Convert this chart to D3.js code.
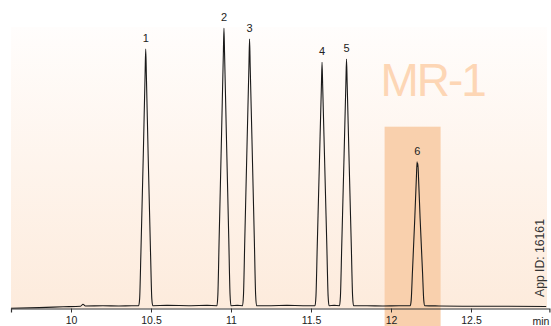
<!DOCTYPE html>
<html>
<head>
<meta charset="utf-8">
<script src="https://cdn.jsdelivr.net/npm/d3@7"></script>
<style>
  html, body { margin: 0; padding: 0; background: #ffffff; }
  svg { display: block; }
</style>
</head>
<body>
<svg id="chart" width="551" height="326"></svg>
<script>
// ---- data ----
const traceTime = [
  9.625, 9.8, 9.95, 10.06, 10.075, 10.09, 10.2, 10.3, 10.38,
  10.423, 10.429, 10.437, 10.452, 10.463, 10.467, 10.471, 10.482, 10.497, 10.505, 10.511,
  10.6, 10.75, 10.85,
  10.912, 10.918, 10.926, 10.941, 10.952, 10.956, 10.960, 10.971, 10.986, 10.994, 11.000,
  11.04,
  11.072, 11.078, 11.086, 11.101, 11.112, 11.116, 11.120, 11.131, 11.146, 11.154, 11.160,
  11.25, 11.35, 11.45,
  11.525, 11.531, 11.539, 11.554, 11.565, 11.569, 11.573, 11.584, 11.599, 11.607, 11.613,
  11.645,
  11.678, 11.684, 11.692, 11.707, 11.718, 11.722, 11.726, 11.737, 11.752, 11.760, 11.766,
  11.85, 11.95, 12.05,
  12.120, 12.126, 12.134, 12.149, 12.159, 12.163, 12.1655, 12.168, 12.172, 12.182, 12.197, 12.205, 12.211,
  12.3, 12.5, 12.7, 12.97
];
const traceSignal = [
  0.1, 0.3, 0.6, 0.8, 1.5, 0.9, 1.0, 0.9, 1.0,
  1.0, 3.5, 20, 55, 83, 92.2, 83, 55, 20, 3.5, 1.0,
  1.1, 1.0, 1.1,
  1.0, 5, 25, 62, 90, 99.5, 90, 62, 25, 5, 1.0,
  1.1,
  1.0, 4.8, 24, 60, 86, 95.7, 86, 60, 24, 4.8, 1.0,
  1.0, 1.1, 1.0,
  1.0, 4.4, 22, 55, 79, 87.5, 79, 55, 22, 4.4, 1.0,
  1.1,
  1.0, 4.4, 22, 55, 80, 88.6, 80, 55, 22, 4.4, 1.0,
  1.0, 0.9, 1.0,
  1.0, 2.8, 13, 32.5, 47, 52.1, 50.5, 51.5, 46.5, 32, 13, 2.8, 1.0,
  0.9, 0.8, 0.8, 0.7
];
const peakNumbers = ["1", "2", "3", "4", "5", "6"];
const peakTimes   = [10.467, 10.956, 11.116, 11.569, 11.722, 12.164];
const peakHeights = [92.2, 99.5, 95.7, 87.5, 88.6, 52.1];
const tickValues  = [10, 10.5, 11, 11.5, 12, 12.5];
const xDomain     = [9.625, 12.99];
const yDomain     = [0, 100];
const highlightRange = [11.96, 12.31];
const unitLabel   = "min";
const watermark   = "MR-1";
const appId       = "App ID: 16161";

// ---- drawing ----
const svg = d3.select("#chart");
const W = 551, H = 326;
const plotTop = 27, axisY = 308.5;

const x = d3.scaleLinear().domain(xDomain).range([11, 549.4]);
const y = d3.scaleLinear().domain(yDomain).range([axisY, plotTop]);

const defs = svg.append("defs");
const grad = defs.append("linearGradient")
  .attr("id", "bg").attr("x1", 0).attr("y1", 0).attr("x2", 0).attr("y2", 1);
grad.append("stop").attr("offset", "0%").attr("stop-color", "#fffdfc");
grad.append("stop").attr("offset", "100%").attr("stop-color", "#fdebdc");

svg.append("rect").attr("width", W).attr("height", H).attr("fill", "#ffffff");

// background panel
svg.append("rect")
  .attr("x", x(xDomain[0])).attr("y", plotTop)
  .attr("width", 547 - x(xDomain[0])).attr("height", axisY - plotTop)
  .attr("fill", "url(#bg)");

// highlight box
svg.append("rect")
  .attr("x", x(highlightRange[0])).attr("y", 126.7)
  .attr("width", x(highlightRange[1]) - x(highlightRange[0]))
  .attr("height", H - 126.7)
  .attr("fill", "#f9d0ad");

// watermark
svg.append("text")
  .attr("x", 380.5).attr("y", 96)
  .attr("font-family", "'Liberation Sans', Arial, sans-serif")
  .attr("font-size", 46)
  .attr("letter-spacing", -2)
  .attr("fill", "#fdd6b5")
  .text(watermark);

// trace
const pts = traceTime.map((t, i) => [t, traceSignal[i]]);
const line = d3.line()
  .x(d => x(d[0])).y(d => y(d[1]))
  .curve(d3.curveMonotoneX);
svg.append("path")
  .datum(pts)
  .attr("d", line)
  .attr("fill", "none")
  .attr("stroke", "#1a1a1a")
  .attr("stroke-width", 1.1)
  .attr("stroke-linejoin", "round");

// axis
const axis = d3.axisBottom(x)
  .tickValues(tickValues)
  .tickSize(4)
  .tickSizeOuter(4)
  .tickPadding(4)
  .tickFormat(d3.format(""));
const gAxis = svg.append("g")
  .attr("transform", `translate(0,${axisY})`)
  .call(axis);
gAxis.select(".domain").attr("stroke", "#333").attr("stroke-width", 1.2);
gAxis.selectAll(".tick line").attr("stroke", "#333");
gAxis.selectAll(".tick text")
  .attr("font-family", "'Liberation Sans', Arial, sans-serif")
  .attr("font-size", 10.5)
  .attr("fill", "#222");

svg.append("text")
  .attr("x", 541).attr("y", 324.5)
  .attr("text-anchor", "middle")
  .attr("font-family", "'Liberation Sans', Arial, sans-serif")
  .attr("font-size", 10.5)
  .attr("fill", "#222")
  .text(unitLabel);

// peak labels
svg.append("g").selectAll("text")
  .data(peakNumbers)
  .join("text")
  .attr("x", (d, i) => x(peakTimes[i]))
  .attr("y", (d, i) => y(peakHeights[i]) - 7)
  .attr("text-anchor", "middle")
  .attr("font-family", "'Liberation Sans', Arial, sans-serif")
  .attr("font-size", 11)
  .attr("fill", "#222")
  .text(d => d);

// App ID
svg.append("text")
  .attr("transform", "translate(544,297) rotate(-90)")
  .attr("font-family", "'Liberation Sans', Arial, sans-serif")
  .attr("font-size", 12.2)
  .attr("fill", "#333")
  .text(appId);
</script>
</body>
</html>
